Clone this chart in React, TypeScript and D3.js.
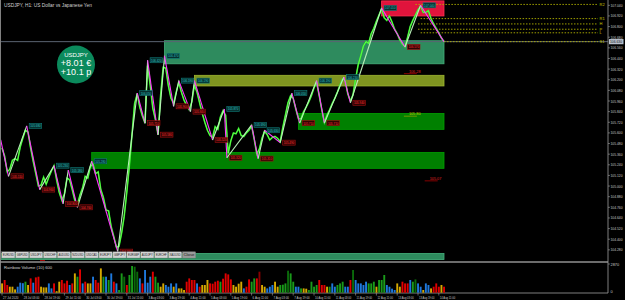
import React from 'react';
import * as d3 from 'd3';

// USDJPY H1 closes, one value every 2 bars (bar 0 = 27 Jul 11:00)
const closes = [
  105.43,105.34,105.16,105.19,105.29,105.31,105.29,105.44,105.54,105.63,
  105.61,105.43,105.28,105.14,105.00,105.01,105.10,105.02,105.10,105.17,
  105.23,105.07,104.93,104.84,104.91,105.09,105.07,104.96,104.84,104.79,
  104.90,104.98,105.11,105.09,105.22,105.25,105.14,105.16,104.96,104.87,
  104.73,104.72,104.54,104.43,104.31,104.32,104.47,104.66,104.93,105.23,
  105.58,105.93,106.04,105.89,105.79,105.71,106.36,106.14,105.88,105.75,
  105.58,106.02,106.34,106.33,106.13,105.99,105.93,106.06,106.17,106.06,
  105.97,105.91,105.86,105.95,106.14,106.06,105.94,105.82,105.72,105.63,
  105.57,105.55,105.67,105.64,105.78,105.85,105.80,105.37,105.51,105.60,
  105.59,105.65,105.57,105.56,105.60,105.63,105.68,105.53,105.36,105.42,
  105.54,105.62,105.58,105.52,105.55,105.56,105.54,105.50,105.66,105.80,
  105.94,106.02,105.99,105.87,105.76,105.76,105.84,105.89,105.95,106.02,
  106.11,106.17,106.02,105.86,105.72,105.80,105.86,105.93,105.99,106.06,
  106.14,106.21,106.19,106.04,105.96,106.03,106.21,106.37,106.47,106.58,
  106.63,106.61,106.72,106.78,106.86,106.93,107.00,106.90,106.87,106.92,
  106.85,106.77,106.72,106.65,106.60,106.57,106.68,106.80,106.87,106.93,
  106.99,107.03,106.96,106.96,106.98,106.89,106.83,106.78,106.73,106.67,
  106.63,
];

// Rainbow volume, one value every 2 bars, with colour class
const volumes = [
  930,1270,770,600,600,330,600,1000,950,1100,
  770,1430,1000,1530,1600,600,530,530,930,430,
  930,150,1100,1270,930,1200,770,930,1930,1600,
  2330,930,1100,930,930,1600,1270,1000,2430,1600,
  1600,1270,1930,1100,930,270,1930,1600,770,1770,
  2670,2600,2100,1430,930,2270,1000,1600,2100,1600,
  1000,600,930,770,600,930,600,930,430,430,
  270,1100,1430,1270,1270,930,600,770,770,1270,
  930,900,1100,1200,1100,1400,1930,1830,1330,770,
  600,900,1100,430,600,1330,1100,1430,1430,2100,
  770,600,430,600,770,1100,600,770,800,930,
  2200,1930,1100,600,600,430,430,400,270,1100,
  600,770,1270,770,770,600,600,930,600,770,
  930,1100,600,600,1270,2270,1270,930,930,770,
  1100,930,930,1100,600,1270,1270,1770,770,600,
  400,270,930,600,1100,930,930,1270,1100,1330,
  930,600,270,930,770,430,600,930,600,770,
  600,
];
const volumeClasses =
  'yrryyybbbg' + 'yrbrryyybb' + 'ryyrrrbryg' + 'rbryybrryg' + 'bgbrbggdrg' +
  'gddbrbbbrg' + 'gyybbbybyy' + 'yrrrrbryyy' + 'rrrrgrrrry' + 'yyybrrggrk' +
  'yybbbyyggg' + 'dggbbgyygg' + 'ggrrrygbbg' + 'ggbbrdbbbb' + 'bgggygggbb' +
  'bbyyrrrbgd' + 'bbybbyrrry' + 'r';

// ZigZag pivots (bar index, price)
const pivotBars = [-1,5,19,29,40,47,51,58,69,89,104,110,112,120,125,132,136,145,148,162,171,173,192,197,202,214,223,229,242,248,263,268,292,310,322,340];
const pivotPrices = [105.52,105.11,105.68,104.96,105.23,104.80,105.18,104.76,105.28,104.26,106.05,105.71,106.42,105.58,106.47,105.90,106.19,105.84,106.19,105.52,105.87,105.32,105.69,105.31,105.63,105.49,106.05,105.71,106.19,105.71,106.23,105.94,107.01,106.57,107.04,106.63];

// Supply / demand zones
const zoneStartBars = [125,148,228,69,292,-2];
const zoneTops = [106.64,106.25,105.82,105.38,107.09,104.24];
const zoneBottoms = [106.38,106.13,105.64,105.20,106.92,104.17];
const zoneKinds = ['sea','olive','green','green','red','sea'];
const zoneEndBar = 340;

// Dotted level lines on the right
const levelPrices = [107.05,106.89,106.83,106.77,106.73,106.63];
const levelStartBars = [318,322,320,320,322,340];
const levelNames = ['R2','R1','H','P','L','S1'];

// Small marks
const markBars = [313,313,329];
const markPrices = [106.28,105.80,105.07];
const markKinds = ['red','olive','red'];

// Axes
const priceTicks = d3.range(0, 24).map((k) => +(107.04 - 0.12 * k).toFixed(3));
const timeLabels = [
  '27 Jul 2020','28 Jul 03:00','28 Jul 19:00','29 Jul 11:00','30 Jul 03:00','30 Jul 19:00',
  '31 Jul 11:00','3 Aug 03:00','3 Aug 19:00','4 Aug 11:00','5 Aug 03:00','5 Aug 19:00',
  '6 Aug 11:00','7 Aug 03:00','7 Aug 19:00','10 Aug 11:00','11 Aug 03:00','11 Aug 19:00',
  '12 Aug 11:00','13 Aug 03:00','13 Aug 19:00','14 Aug 11:00',
];
const buttonLabels = ['EURUSD','GBPUSD','USDJPY','USDCHF','AUDUSD','NZDUSD','USDCAD','EURJPY','GBPJPY','EURGBP','AUDJPY','EURCHF','XAUUSD','Close'];

const FONT = 'Liberation Sans, Arial, sans-serif';

const zoneFill: Record<string, string> = { sea: '#2e8b5e', olive: '#7f9420', green: '#008000', red: '#e0143c' };
const zoneStroke: Record<string, string> = { sea: '#45b07c', olive: '#9fb830', green: '#00a000', red: '#ff3050' };
const volColor: Record<string, string> = { y: '#d4a800', r: '#e00000', b: '#1e78dc', g: '#1a9a1a', d: '#0a6a0a', k: '#8b0000' };

export default function App() {
  const x = d3.scaleLinear().domain([0, 340]).range([2, 444]);
  const y = d3.scaleLinear().domain([107.1, 104.1]).range([0, 265.8]);
  const v = d3.scaleLinear().domain([0, 2870]).range([292.7, 264]);
  const axisX = 608;

  const priceLine = d3
    .line<number>()
    .x((_, j) => x(j * 2))
    .y((d) => y(d))(closes) as string;

  const bid = closes[closes.length - 1];

  return (
    <svg width={625} height={300} style={{ position: 'absolute', left: 0, top: 0, background: '#000' }} fontFamily={FONT}>
      <defs>
        <clipPath id="main">
          <rect x={0} y={0} width={axisX} height={261} />
        </clipPath>
      </defs>
      <rect x={0} y={0} width={625} height={300} fill="#000" />

      <g clipPath="url(#main)">
        {zoneStartBars.map((s, k) => (
          <rect
            key={'z' + k}
            x={x(s)}
            y={y(zoneTops[k])}
            width={x(zoneEndBar) - x(s)}
            height={y(zoneBottoms[k]) - y(zoneTops[k])}
            fill={zoneFill[zoneKinds[k]]}
            stroke={zoneStroke[zoneKinds[k]]}
            strokeWidth={0.8}
          />
        ))}

        <line x1={0} x2={axisX} y1={y(bid)} y2={y(bid)} stroke="#5a6472" strokeWidth={1} />

        {levelPrices.map((p, k) => (
          <g key={'l' + k}>
            <line x1={x(levelStartBars[k])} x2={598} y1={y(p)} y2={y(p)} stroke="#b0b000" strokeWidth={0.9} strokeDasharray="1.5,1.5" />
            <text x={599.5} y={y(p) + 1.5} fontSize={4} fill="#c8c800">{levelNames[k]}</text>
          </g>
        ))}

        <path d={priceLine} fill="none" stroke="#22e622" strokeWidth={1.6} />
        <path d={priceLine} fill="none" stroke="#7dff5a" strokeWidth={0.7} />

        {pivotBars.slice(0, -1).map((b, k) => {
          const up = pivotPrices[k + 1] > pivotPrices[k];
          return (
            <line
              key={'zz' + k}
              x1={x(b)}
              y1={y(pivotPrices[k])}
              x2={x(pivotBars[k + 1])}
              y2={y(pivotPrices[k + 1])}
              stroke={up ? '#b8f0b8' : '#ff38ff'}
              strokeWidth={1.1}
            />
          );
        })}

        {pivotBars.map((b, k) => {
          if (k === 0 || k === pivotBars.length - 1) return null;
          const high = pivotPrices[k] > pivotPrices[k - 1];
          const px = x(b) + 2.5;
          const py = y(pivotPrices[k]);
          return (
            <g key={'pl' + k}>
              <rect x={px} y={py - 2.5} width={12.5} height={5} fill={high ? '#06302f' : '#300404'} stroke={high ? '#0f7a78' : '#a01010'} strokeWidth={0.6} />
              <text x={px + 6.25} y={py + 1.5} fontSize={3.6} textAnchor="middle" textLength={10.5} lengthAdjust="spacingAndGlyphs" fill={high ? '#2ec0c0' : '#ff3030'}>
                {pivotPrices[k].toFixed(3)}
              </text>
            </g>
          );
        })}

        {markBars.map((b, k) => (
          <g key={'m' + k}>
            <line x1={x(b) - 5} x2={x(b) + 8} y1={y(markPrices[k]) + 1} y2={y(markPrices[k]) + 1} stroke={markKinds[k] === 'red' ? '#c00000' : '#a0a000'} strokeWidth={0.7} />
            <text x={x(b)} y={y(markPrices[k])} fontSize={3.8} fill={markKinds[k] === 'red' ? '#e02020' : '#c8c800'}>
              {markPrices[k].toFixed(2)}
            </text>
          </g>
        ))}
      </g>

      <text x={4} y={6.5} fontSize={4.8} fill="#d0d0d0">USDJPY, H1:  US Dollar vs Japanese Yen</text>

      <circle cx={76} cy={64.5} r={19} fill="#0b8a5c" />
      <text x={76} y={56.5} fontSize={6} fill="#fff" textAnchor="middle">USDJPY</text>
      <text x={76} y={66} fontSize={9} fill="#fff" textAnchor="middle">+8.01 €</text>
      <text x={76} y={75} fontSize={9} fill="#fff" textAnchor="middle">+10.1 p</text>

      {buttonLabels.map((b, k) => (
        <g key={'b' + k}>
          <rect x={1.7 + k * 13.9} y={251.8} width={13.2} height={6.2} fill={k === 13 ? '#9a9a9a' : '#d4d4d4'} stroke="#808080" strokeWidth={0.4} />
          <text x={1.7 + k * 13.9 + 6.6} y={256.4} fontSize={3} textAnchor="middle" textLength={11} lengthAdjust="spacingAndGlyphs" fill="#202020">{b}</text>
        </g>
      ))}
      <line x1={40} x2={45} y1={260.5} y2={260.5} stroke="#c00000" strokeWidth={0.8} />

      <line x1={0.5} x2={0.5} y1={0} y2={293} stroke="#808080" strokeWidth={1} />
      <line x1={0} x2={axisX} y1={262} y2={262} stroke="#909090" strokeWidth={1.6} />
      <line x1={axisX} x2={axisX} y1={0} y2={293} stroke="#a0a0a0" strokeWidth={0.8} />
      <line x1={0} x2={axisX} y1={293} y2={293} stroke="#a0a0a0" strokeWidth={0.8} />

      {priceTicks.map((p) => (
        <g key={'pt' + p}>
          <line x1={axisX} x2={axisX + 2} y1={y(p)} y2={y(p)} stroke="#a0a0a0" strokeWidth={0.6} />
          <text x={axisX + 2.5} y={y(p) + 1.5} fontSize={3.9} textLength={12} lengthAdjust="spacingAndGlyphs" fill="#c8c8c8">{p.toFixed(3)}</text>
        </g>
      ))}
      <rect x={axisX + 1} y={y(bid) - 2.6} width={14.5} height={5.2} fill="#b8c0cc" />
      <text x={axisX + 2} y={y(bid) + 1.5} fontSize={3.9} textLength={12} lengthAdjust="spacingAndGlyphs" fill="#101010">{bid.toFixed(3)}</text>

      <text x={4} y={269} fontSize={4.2} fill="#d0d0d0">{`Rainbow Volume (10) ${volumes[volumes.length - 1]}`}</text>
      {volumes.map((vol, j) => (
        <rect key={'v' + j} x={x(j * 2) - 0.9} y={v(vol)} width={1.9} height={v(0) - v(vol)} fill={volColor[volumeClasses[j]]} />
      ))}
      <line x1={axisX} x2={axisX + 2} y1={v(2870)} y2={v(2870)} stroke="#a0a0a0" strokeWidth={0.6} />
      <text x={axisX + 2.5} y={v(2870) + 1.5} fontSize={3.9} fill="#c8c8c8">2870</text>
      <text x={axisX + 2.5} y={v(0) + 0.5} fontSize={3.9} fill="#c8c8c8">0</text>

      {timeLabels.map((t, k) => (
        <g key={'t' + k}>
          <line x1={x(k * 16)} x2={x(k * 16)} y1={293} y2={295.5} stroke="#a0a0a0" strokeWidth={0.6} />
          <text x={x(k * 16) + 1} y={298.5} fontSize={3.4} textLength={15.5} lengthAdjust="spacingAndGlyphs" fill="#c8c8c8">{t}</text>
        </g>
      ))}
    </svg>
  );
}
